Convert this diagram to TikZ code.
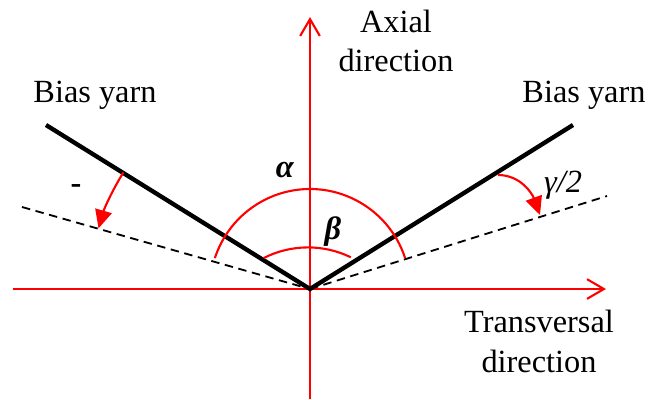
\documentclass[tikz,border=0pt]{standalone}
\usepackage{fontspec}
\setmainfont{Liberation Serif}
\usepackage{tikz}
\usetikzlibrary{
  arrows.meta,
  calc
}

\begin{document}
\begin{tikzpicture}[
  redline/.style={red, line width=1.5pt},
  axisarrow/.style={redline, -{Straight Barb[length=12pt,width=14pt]}},
  yarn/.style={black, line width=3.1pt},
  proj/.style={black, line width=1.3pt, dash pattern=on 6pt off 4pt},
  turn/.style={redline, -{Triangle[length=13pt,width=12pt]}},
  lbl/.style={font=\fontsize{23}{28}\selectfont, align=center}
]
  \useasboundingbox (-7.75,-2.75) rectangle (8.475,7.225);

  % 坐标点
  \coordinate (O) at (0,0);
  \coordinate (xL) at (-7.425,0);
  \coordinate (xR) at (7.4,0);
  \coordinate (yB) at (0,-2.75);
  \coordinate (yT) at (0,6.8);
  \coordinate (yarnL) at (-6.6,4.1);
  \coordinate (yarnR) at (6.575,4.1);
  \coordinate (dashL) at (-7.2,2.05);
  \coordinate (dashR) at (7.425,2.325);

  % 坐标轴
  \draw[axisarrow] (xL)--(xR);
  \draw[axisarrow] (yB)--(yT);

  % 投影虚线
  \draw[proj] (dashL)--(O);
  \draw[proj] (O)--(dashR);

  % 斜向纱线
  \draw[yarn] (yarnL)--(O)--(yarnR);

  % 角度 alpha, beta
  \draw[redline] (18:2.5) arc[start angle=18, end angle=162, radius=2.5];
  \coordinate (bc) at (-0.05,-1.4);
  \draw[redline] ($(bc)+(64:2.44)$) arc[start angle=64, end angle=117, radius=2.44];
  \node[lbl] (alpha) at (-0.625,2.975) {\textbf{\textit{α}}};
  \node[lbl] (beta) at (0.575,1.425) {\textbf{\textit{β}}};

  % 转角箭头
  \draw[turn] (148:5.5) arc[start angle=148, end angle=164, radius=5.5];
  \coordinate (turnR) at (4.7,2.85);
  \coordinate (tipR) at (5.75,1.85);
  \draw[turn] (turnR) to[out=0, in=110] (tipR);
  \node[lbl] (minus) at (-5.85,2.5) {\textbf{-}};
  \node[lbl] (gamma) at (6.325,2.6) {\textit{γ/2}};

  % 文字标注
  \node[lbl, anchor=base] (biasL) at (-5.375,4.675) {Bias yarn};
  \node[lbl, anchor=base] (biasR) at (6.85,4.675) {Bias yarn};
  \node[lbl] (axial) at (2.15,6.2) {Axial\\direction};
  \node[lbl] (trans) at (5.725,-1.3125) {Transversal\\direction};
\end{tikzpicture}
\end{document}
